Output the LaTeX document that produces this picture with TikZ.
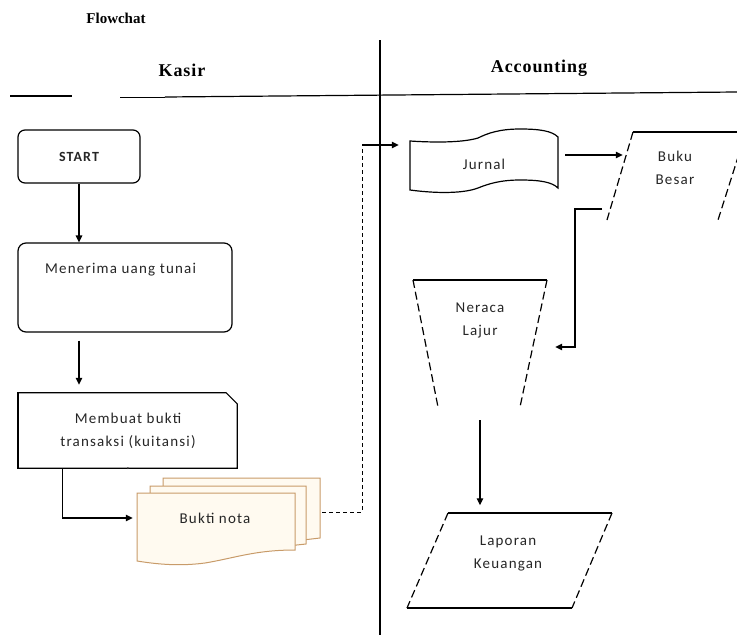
\documentclass[tikz,border=0pt]{standalone}
\usepackage{fontspec}
\setmainfont{Liberation Serif}
\newfontfamily\boxfont[LetterSpace=8]{Carlito}
\newfontfamily\headfont[LetterSpace=5]{Liberation Serif}
\usetikzlibrary{arrows.meta}
\definecolor{notaedge}{RGB}{200,155,105}
\definecolor{notafill}{RGB}{255,250,240}
\begin{document}
\begin{tikzpicture}[x=1pt,y=-1pt,
  ln/.style={line width=1.2pt, draw=black},
  arr/.style={ln, -{Triangle[length=7pt,width=6.5pt]}},
  txt/.style={font=\boxfont\fontsize{15}{23}\selectfont, text=black!85, align=center, inner sep=0pt},
  head/.style={font=\headfont\bfseries\fontsize{18}{20}\selectfont, inner sep=0pt},
  dside/.style={line width=1.2pt, dash pattern=on 8pt off 4pt},
  doc/.style={draw=notaedge, fill=notafill, line width=1pt},
  flow/.style={line width=1pt, dash pattern=on 4pt off 3pt}
]
\useasboundingbox (0,0) rectangle (737,635);
\clip (0,0) rectangle (737,635);
\fill[white] (0,0) rectangle (737,635);

% headings
\node[font=\bfseries\fontsize{15}{17}\selectfont, inner sep=0pt] (title) at (116,18) {Flowchat};
\node[head] (kasir) at (182,70) {Kasir};
\node[head] (acc) at (539,68) {Accounting};

% lane lines
\draw[ln] (10,96) -- (72,96);
\draw[line width=0.6pt] (120,97) -- (165,97);
\draw[line width=1.2pt] (165,97) -- (737,92);
\draw[line width=1.2pt] (380,40) -- (380,635);

% Kasir lane
\node[draw, ln, rounded corners=7pt, minimum width=122pt, minimum height=53pt, inner sep=0pt,
  font=\boxfont\bfseries\fontsize{14}{16}\selectfont, text=black!85] (start) at (79,156.5) {START};

\node[draw, ln, rounded corners=8pt, minimum width=214pt, minimum height=89pt, inner sep=0pt] (terima) at (125,287.5) {};
\node[txt, anchor=west] (terimaT) at (45,270) {Menerima uang tunai};

\node[minimum width=219pt, minimum height=75pt, inner sep=0pt] (buat) at (127.5,430.5) {};
\draw[ln] (buat.north west) -- ([xshift=-11pt]buat.north east) -- ([yshift=-11pt]buat.north east)
  -- (buat.south east) -- (buat.south west) -- cycle;
\draw[line width=2.2pt] (buat.north west) -- (buat.south west);
\node[txt] (buatT) at (128,441) {Membuat bukti\\transaksi (kuitansi)\\.};

% Bukti nota (multi-document)
\filldraw[doc] (163,478) -- (320,478) -- (320,538) -- (260,545) -- (163,548) -- cycle;
\filldraw[doc] (150,486) -- (306,486) -- (306,544) -- (250,550) -- (150,552) -- cycle;
\filldraw[doc] (137,493) -- (295,493) -- (295,550)
  .. controls (255,550) and (235,558) .. (205,563)
  .. controls (175,567) and (150,563) .. (137,561) -- cycle;
\node[minimum width=185pt, minimum height=100pt, inner sep=0pt] (nota) at (229.5,512) {};
\node[txt] (notaT) at (215,518) {Bukti nota};

\draw[arr] (start.south) -- (start.south |- terima.north);
\draw[arr, shorten <=8pt, shorten >=8pt] (start.south |- terima.south) -- (start.south |- buat.north);
\draw[arr, shorten >=4pt] ([xshift=-65pt]buat.south) |- (nota.west |- notaT);

% Accounting lane
% Jurnal (tape)
\draw[ln, fill=white] (410,141) .. controls (440,143) and (465,142) .. (478,138)
  .. controls (488,133) and (500,129) .. (520,129)
  .. controls (540,129) and (552,131) .. (558,137)
  -- (558,188)
  .. controls (552,182) and (540,180) .. (520,180)
  .. controls (500,180) and (488,184) .. (478,188)
  .. controls (465,193) and (440,194) .. (410,190) -- cycle;
\node[minimum width=148pt, minimum height=50pt, inner sep=0pt, txt] (jurnal) at (484,164) {Jurnal};

\coordinate (turn) at (362,145);
\draw[flow] (nota.east) -- (nota.east -| turn) -- (turn);
\draw[arr, shorten >=11pt] (turn) -- (jurnal.west |- turn);

% Buku Besar
\draw[ln] (633,132) -- (760,132);
\draw[dside] (633,132) -- (607,220);
\draw[dside] (746,132) -- (718,220);
\node[txt, minimum width=96pt] (buku) at (675,168) {Buku\\Besar};
\draw[arr, shorten <=7pt, shorten >=4pt] ([yshift=9pt]jurnal.east) -- ([yshift=9pt]jurnal.east -| buku.west);

% Neraca Lajur
\draw[ln] (413,280) -- (547,280);
\draw[dside] (413,280) -- (438,407);
\draw[dside] (547,280) -- (520,407);
\node[txt, minimum width=150pt, minimum height=174pt] (neraca) at (480,320) {Neraca\\Lajur};

\coordinate (bukuOut) at (602,209);
\draw[arr] (bukuOut) -- ++(-27,0) |- ([yshift=-27pt]neraca.east);

% Laporan Keuangan
\draw[ln] (448,513) -- (612,513);
\draw[ln] (407,608) -- (572,608);
\draw[dside] (448,513) -- (407,608);
\draw[dside] (612,513) -- (572,608);
\node[txt, minimum height=95pt] (lapor) at (508,553) {Laporan\\Keuangan};

\draw[arr, shorten <=13pt] (neraca.south) -- (neraca.south |- lapor.north);
\end{tikzpicture}
\end{document}
